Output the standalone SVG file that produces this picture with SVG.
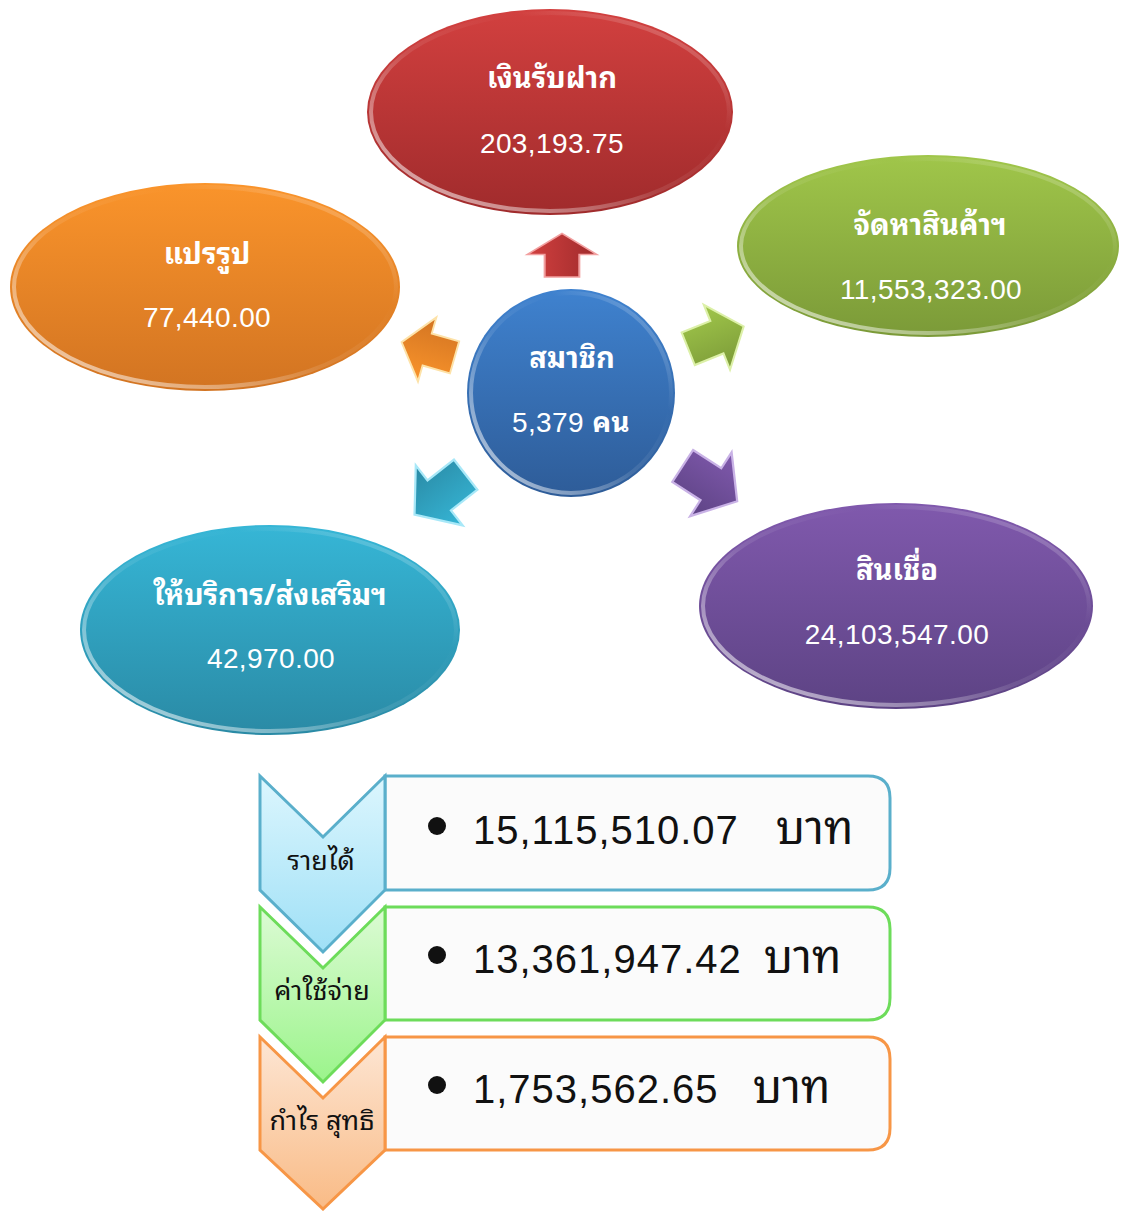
<svg xmlns="http://www.w3.org/2000/svg" width="1121" height="1211" viewBox="0 0 1121 1211">
<style>
.title{font-family:"Noto Sans Thai Looped","Noto Serif Thai","Loma","Garuda","Noto Sans Thai","Noto Sans","DejaVu Sans",sans-serif;font-size:29px;font-weight:bold;fill:#ffffff;text-anchor:middle}
.num{font-family:"Liberation Sans","Noto Sans",sans-serif;font-size:28px;font-weight:normal;fill:#ffffff;text-anchor:middle;letter-spacing:0.4px}
.lbl{font-family:"Noto Sans Thai Looped","Noto Serif Thai","Loma","Garuda","Noto Sans Thai","Noto Sans","DejaVu Sans",sans-serif;font-size:27px;fill:#111111;text-anchor:middle}
.val{font-family:"Liberation Sans","Noto Sans",sans-serif;font-size:40px;fill:#111111;letter-spacing:1px}
.baht{font-family:"Noto Sans Thai Looped","Noto Serif Thai","Loma","Garuda","Noto Sans Thai","Noto Sans","DejaVu Sans",sans-serif;font-size:45px;fill:#111111}
.rim{fill:none;stroke:url(#rimg);stroke-width:4}
.box{fill:#fbfbfb;stroke-width:3}
.chev{stroke-width:3}
</style>
<defs>
<linearGradient id="gRed" x1="0" y1="0" x2="0" y2="1"><stop offset="0" stop-color="#d2403f"/><stop offset="1" stop-color="#a02b2c"/></linearGradient>
<linearGradient id="gOrange" x1="0" y1="0" x2="0" y2="1"><stop offset="0" stop-color="#fa942b"/><stop offset="1" stop-color="#d27422"/></linearGradient>
<linearGradient id="gGreen" x1="0" y1="0" x2="0" y2="1"><stop offset="0" stop-color="#a0c64a"/><stop offset="1" stop-color="#7b9a38"/></linearGradient>
<linearGradient id="gBlue" x1="0" y1="0" x2="0" y2="1"><stop offset="0" stop-color="#3f82cf"/><stop offset="1" stop-color="#2e5c98"/></linearGradient>
<linearGradient id="gCyan" x1="0" y1="0" x2="0" y2="1"><stop offset="0" stop-color="#36b6d6"/><stop offset="1" stop-color="#2a8aa5"/></linearGradient>
<linearGradient id="gPurple" x1="0" y1="0" x2="0" y2="1"><stop offset="0" stop-color="#8059ad"/><stop offset="1" stop-color="#5d4384"/></linearGradient>
<linearGradient id="rimg" x1="0" y1="1" x2="1" y2="0"><stop offset="0" stop-color="#ffffff" stop-opacity="0.75"/><stop offset="0.45" stop-color="#ffffff" stop-opacity="0.1"/><stop offset="0.7" stop-color="#ffffff" stop-opacity="0"/><stop offset="1" stop-color="#ffffff" stop-opacity="0.35"/></linearGradient>
<linearGradient id="cBlue" x1="0" y1="0" x2="0" y2="1"><stop offset="0" stop-color="#dcf6fe"/><stop offset="1" stop-color="#9fe0f6"/></linearGradient>
<linearGradient id="cGreen" x1="0" y1="0" x2="0" y2="1"><stop offset="0" stop-color="#dcfbd4"/><stop offset="1" stop-color="#9bf48b"/></linearGradient>
<linearGradient id="cOrange" x1="0" y1="0" x2="0" y2="1"><stop offset="0" stop-color="#fde6d4"/><stop offset="1" stop-color="#f9bb86"/></linearGradient>
<polygon id="arr" points="-28,-17 2,-17 2,-34 30,0 2,34 2,17 -28,17"/>
</defs>
<rect width="1121" height="1211" fill="#ffffff"/>

<g id="connectors">
<use href="#arr" transform="translate(562,256) rotate(-90) scale(0.75,1.02)" fill="url(#gRed)" stroke="#f2a0a0" stroke-width="2"/>
<use href="#arr" transform="translate(429,350) rotate(196) scale(0.95,0.98)" fill="url(#gOrange)" stroke="#fde2a8" stroke-width="2"/>
<use href="#arr" transform="translate(715,338) rotate(-22) scale(1.03)" fill="url(#gGreen)" stroke="#dcf0a8" stroke-width="2"/>
<use href="#arr" transform="translate(441,494) rotate(142) scale(1.12)" fill="url(#gCyan)" stroke="#a8e8f8" stroke-width="2"/>
<use href="#arr" transform="translate(709,483) rotate(33) scale(1.12)" fill="url(#gPurple)" stroke="#c9b2e6" stroke-width="2"/>
</g>

<g id="node-deposit">
<ellipse cx="550" cy="112" rx="183" ry="103" fill="url(#gRed)"/>
<ellipse class="rim" cx="550" cy="112" rx="179" ry="99"/>
<text class="title" x="552" y="88">เงินรับฝาก</text>
<text class="num" x="552" y="153">203,193.75</text>
</g>

<g id="node-processing">
<ellipse cx="205" cy="287" rx="195" ry="104" fill="url(#gOrange)"/>
<ellipse class="rim" cx="205" cy="287" rx="191" ry="100"/>
<text class="title" x="207" y="264">แปรรูป</text>
<text class="num" x="207" y="327">77,440.00</text>
</g>

<g id="node-goods">
<ellipse cx="928" cy="246" rx="191" ry="91" fill="url(#gGreen)"/>
<ellipse class="rim" cx="928" cy="246" rx="187" ry="87"/>
<text class="title" x="930" y="235">จัดหาสินค้าฯ</text>
<text class="num" x="931" y="299">11,553,323.00</text>
</g>

<g id="node-members">
<circle cx="571" cy="393" r="104" fill="url(#gBlue)"/>
<circle class="rim" cx="571" cy="393" r="100"/>
<text class="title" x="572" y="368">สมาชิก</text>
<text class="num" x="571" y="432">5,379 <tspan style="font-family:'Noto Sans Thai Looped','Noto Sans Thai','Noto Sans',sans-serif;font-weight:bold">คน</tspan></text>
</g>

<g id="node-services">
<ellipse cx="270" cy="630" rx="190" ry="105" fill="url(#gCyan)"/>
<ellipse class="rim" cx="270" cy="630" rx="186" ry="101"/>
<text class="title" x="270" y="605">ให้บริการ/ส่งเสริมฯ</text>
<text class="num" x="271" y="668">42,970.00</text>
</g>

<g id="node-credit">
<ellipse cx="896" cy="606" rx="197" ry="103" fill="url(#gPurple)"/>
<ellipse class="rim" cx="896" cy="606" rx="193" ry="99"/>
<text class="title" x="897" y="580">สินเชื่อ</text>
<text class="num" x="897" y="644">24,103,547.00</text>
</g>

<g id="row-income">
<path class="box" stroke="#5aafcb" d="M385,776 H868 Q890,776 890,798 V868 Q890,890 868,890 H385 Z"/>
<path class="chev" fill="url(#cBlue)" stroke="#5aafcb" d="M260,776 L323,837 L385,776 L385,890 L323,952 L260,890 Z"/>
<text class="lbl" x="321" y="870">รายได้</text>
<circle cx="437" cy="826" r="9" fill="#111111"/>
<text class="val" x="473" y="844">15,115,510.07</text>
<text class="baht" x="776" y="844">บาท</text>
</g>

<g id="row-expense">
<path class="box" stroke="#6ddc5a" d="M385,907 H868 Q890,907 890,929 V998 Q890,1020 868,1020 H385 Z"/>
<path class="chev" fill="url(#cGreen)" stroke="#6ddc5a" d="M260,907 L323,968 L385,907 L385,1020 L323,1082 L260,1020 Z"/>
<text class="lbl" x="322" y="1000">ค่าใช้จ่าย</text>
<circle cx="437" cy="955" r="9" fill="#111111"/>
<text class="val" x="473" y="973">13,361,947.42</text>
<text class="baht" x="764" y="973">บาท</text>
</g>

<g id="row-profit">
<path class="box" stroke="#f79646" d="M385,1037 H868 Q890,1037 890,1059 V1128 Q890,1150 868,1150 H385 Z"/>
<path class="chev" fill="url(#cOrange)" stroke="#f79646" d="M260,1037 L323,1098 L385,1037 L385,1150 L323,1209 L260,1150 Z"/>
<text class="lbl" x="322" y="1130">กำไร สุทธิ</text>
<circle cx="437" cy="1085" r="9" fill="#111111"/>
<text class="val" x="473" y="1103">1,753,562.65</text>
<text class="baht" x="753" y="1103">บาท</text>
</g>
</svg>
